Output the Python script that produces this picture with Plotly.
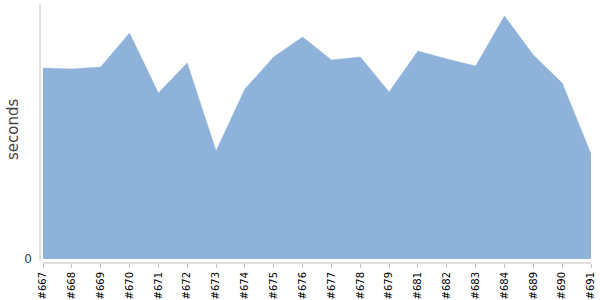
import plotly.graph_objects as go

categories = ["#667", "#668", "#669", "#670", "#671", "#672", "#673", "#674", "#675", "#676",
              "#677", "#678", "#679", "#681", "#682", "#683", "#684", "#689", "#690", "#691"]
seconds = [191, 190, 192, 226, 166, 196, 108, 170, 202, 222,
           199, 202, 167, 208, 200, 193, 243, 204, 176, 105]

W, H = 600, 300
L, R, T, B = 40, 8, 4, 37
pw = W - L - R
ph = H - T - B

fig = go.Figure()
fig.add_trace(go.Scatter(
    x=list(range(len(categories))), y=seconds,
    mode="lines", fill="tozeroy",
    line=dict(color="#8fb2da", width=0.5),
    fillcolor="#8fb2da",
    hoverinfo="skip",
))

n = len(categories)
fig.update_layout(
    width=W, height=H,
    margin=dict(l=L, r=R, t=T, b=B, autoexpand=False),
    paper_bgcolor="white", plot_bgcolor="white",
    showlegend=False,
    xaxis=dict(
        range=[-3 / 28.84, (n - 1) + 1 / 28.84],
        tickvals=list(range(n)), ticktext=categories,
        tickangle=-90,
        tickfont=dict(family="DejaVu Sans", size=10, color="#000000"),
        showgrid=False, zeroline=False,
        showline=False, automargin=False,
        ticks="outside", ticklen=4, tickcolor="#c0c0c0", tickwidth=1,
    ),
    yaxis=dict(
        range=[-4, 255],
        tickvals=[0], ticktext=["0"],
        tickfont=dict(family="DejaVu Sans", size=12, color="#444444"),
        showgrid=False, zeroline=False, showline=False, automargin=False,
        ticks="", ticklabelstandoff=7,
    ),
    shapes=[
        dict(type="line", xref="x", yref="paper", x0=0, x1=n - 1, y0=0, y1=0,
             line=dict(color="#c0c0c0", width=1)),
        dict(type="line", xref="paper", yref="y", x0=0, x1=0, y0=-1, y1=255,
             line=dict(color="#c0c0c0", width=1)),
    ],
    annotations=[
        dict(text="seconds", xref="paper", yref="paper",
             x=(13 - L) / pw, y=(H - B - 130) / ph,
             xanchor="center", yanchor="middle", textangle=-90, showarrow=False,
             font=dict(family="DejaVu Sans", size=15, color="#444444")),
    ],
)

fig.write_html("out.html")
